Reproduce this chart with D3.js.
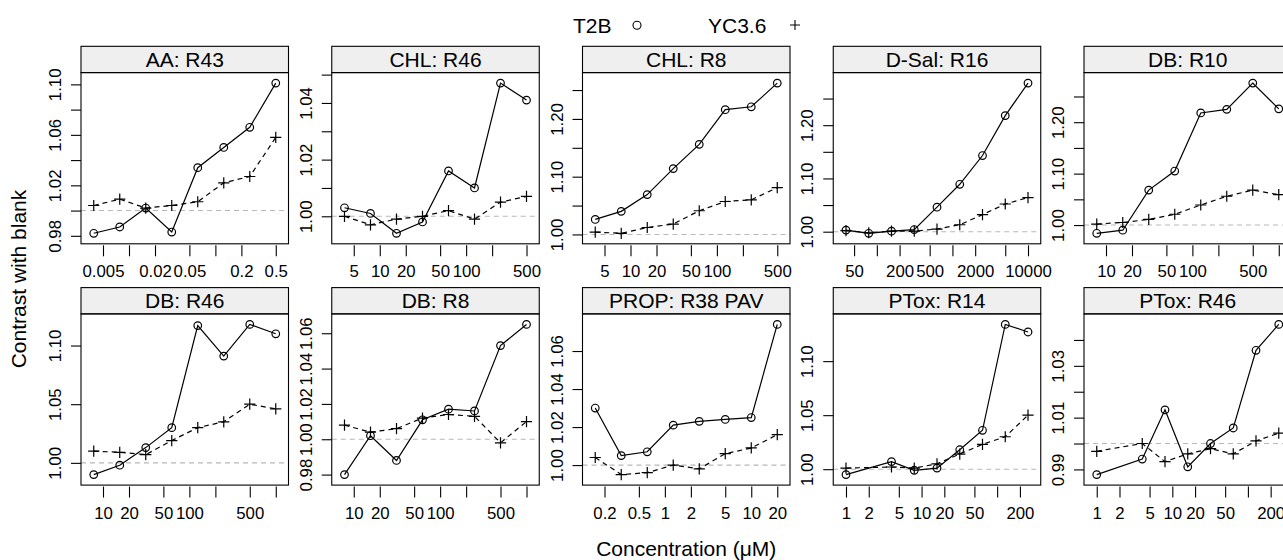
<!DOCTYPE html>
<html>
<head>
<meta charset="utf-8">
<script src="https://cdn.jsdelivr.net/npm/d3@7"></script>
<style>
  html, body { margin: 0; padding: 0; background: #fff; overflow: hidden; }
  svg { display: block; font-family: "Liberation Sans", Arial, Helvetica, sans-serif; }
</style>
</head>
<body>
<div id="chart"></div>
<script>
'use strict';

const panelTitles = ['AA: R43', 'CHL: R46', 'CHL: R8', 'D-Sal: R16', 'DB: R10',
  'DB: R46', 'DB: R8', 'PROP: R38 PAV', 'PTox: R14', 'PTox: R46'];

// concentrations (uM), one dilution series per compound
const concAA = [0.00390625, 0.0078125, 0.015625, 0.03125, 0.0625, 0.125, 0.25, 0.5];
const concCHL = [3.90625, 7.8125, 15.625, 31.25, 62.5, 125, 250, 500];
const concDSal = [39.0625, 78.125, 156.25, 312.5, 625, 1250, 2500, 5000, 10000];
const concDB = [7.8125, 15.625, 31.25, 62.5, 125, 250, 500, 1000];
const concPROP = [0.15625, 0.3125, 0.625, 1.25, 2.5, 5, 10, 20];
const concPTox = [1, 4, 8, 16, 32, 64, 128, 256];

const panelConc = [concAA, concCHL, concCHL, concDSal, concDB,
  concDB, concDB, concPROP, concPTox, concPTox];

// contrast with blank
const t2b = [
  [0.982, 0.987, 1.002, 0.983, 1.034, 1.050, 1.066, 1.101],
  [1.003, 1.001, 0.994, 0.998, 1.016, 1.010, 1.047, 1.041],
  [1.026, 1.040, 1.069, 1.114, 1.156, 1.216, 1.221, 1.262],
  [1.003, 0.997, 1.001, 1.004, 1.046, 1.089, 1.143, 1.218, 1.279],
  [0.984, 0.990, 1.068, 1.105, 1.218, 1.225, 1.276, 1.226],
  [0.990, 0.998, 1.013, 1.030, 1.117, 1.091, 1.118, 1.110],
  [0.980, 1.002, 0.988, 1.011, 1.017, 1.016, 1.053, 1.065],
  [1.030, 1.005, 1.007, 1.021, 1.023, 1.024, 1.025, 1.074],
  [0.995, 1.007, 0.999, 1.001, 1.018, 1.036, 1.134, 1.127],
  [0.988, 0.994, 1.013, 0.991, 1.000, 1.006, 1.036, 1.046]
];
const yc36 = [
  [1.004, 1.009, 1.002, 1.004, 1.007, 1.022, 1.027, 1.058],
  [1.000, 0.997, 0.999, 1.000, 1.002, 0.999, 1.005, 1.007],
  [1.004, 1.002, 1.012, 1.018, 1.041, 1.057, 1.060, 1.081],
  [1.002, 0.998, 1.001, 1.001, 1.005, 1.013, 1.032, 1.052, 1.064],
  [1.002, 1.005, 1.011, 1.021, 1.039, 1.056, 1.068, 1.059],
  [1.010, 1.009, 1.007, 1.019, 1.030, 1.035, 1.050, 1.046],
  [1.008, 1.004, 1.006, 1.012, 1.014, 1.013, 0.998, 1.010],
  [1.004, 0.995, 0.996, 1.000, 0.998, 1.006, 1.009, 1.016],
  [1.001, 1.002, 1.001, 1.005, 1.014, 1.023, 1.030, 1.050],
  [0.997, 1.000, 0.993, 0.996, 0.998, 0.996, 1.001, 1.004]
];

// ticks (labels dropped where they overlapped in the original)
const xTicks = [
  [0.005, 0.01, 0.02, 0.05, 0.1, 0.2, 0.5],
  [5, 10, 20, 50, 100, 200, 500],
  [5, 10, 20, 50, 100, 200, 500],
  [50, 100, 200, 500, 1000, 2000, 5000, 10000],
  [10, 20, 50, 100, 200, 500, 1000],
  [10, 20, 50, 100, 200, 500, 1000],
  [10, 20, 50, 100, 200, 500, 1000],
  [0.2, 0.5, 1, 2, 5, 10, 20],
  [1, 2, 5, 10, 20, 50, 100, 200],
  [1, 2, 5, 10, 20, 50, 100, 200]
];
const xTickLabels = [
  ['0.005', '', '0.02', '0.05', '', '0.2', '0.5'],
  ['5', '10', '20', '50', '100', '', '500'],
  ['5', '10', '20', '50', '100', '', '500'],
  ['50', '', '200', '500', '', '2000', '', '10000'],
  ['10', '20', '50', '100', '', '500', ''],
  ['10', '20', '50', '100', '', '500', ''],
  ['10', '20', '50', '100', '', '500', ''],
  ['0.2', '0.5', '1', '2', '5', '10', '20'],
  ['1', '2', '5', '10', '20', '50', '', '200'],
  ['1', '2', '5', '10', '20', '50', '', '200']
];
const yTicks = [
  [0.98, 1.00, 1.02, 1.04, 1.06, 1.08, 1.10],
  [1.00, 1.01, 1.02, 1.03, 1.04, 1.05],
  [1.00, 1.05, 1.10, 1.15, 1.20, 1.25],
  [1.00, 1.05, 1.10, 1.15, 1.20, 1.25],
  [1.00, 1.05, 1.10, 1.15, 1.20, 1.25],
  [1.00, 1.05, 1.10],
  [0.98, 1.00, 1.02, 1.04, 1.06],
  [1.00, 1.02, 1.04, 1.06],
  [1.00, 1.05, 1.10],
  [0.99, 1.00, 1.01, 1.02, 1.03, 1.04]
];
const yTickLabels = [
  ['0.98', '', '1.02', '', '1.06', '', '1.10'],
  ['1.00', '', '1.02', '', '1.04', ''],
  ['1.00', '', '1.10', '', '1.20', ''],
  ['1.00', '', '1.10', '', '1.20', ''],
  ['1.00', '', '1.10', '', '1.20', ''],
  ['1.00', '1.05', '1.10'],
  ['0.98', '1.00', '1.02', '1.04', '1.06'],
  ['1.00', '1.02', '1.04', '1.06'],
  ['1.00', '1.05', '1.10'],
  ['0.99', '', '1.01', '', '1.03', '']
];

const seriesNames = ['T2B', 'YC3.6'];

const config = {
  width: 1283,
  height: 560,
  left: 81,
  colStep: 250.75,
  panelW: 207.5,
  top: 46.3,
  rowStep: 241.3,
  stripH: 26.3,
  panelH: 171.2,
  cols: 5,
  pad: 0.07,          // lattice axis.padding
  tickFont: 16.8,
  stripFont: 21,
  titleFont: 21,
  lineW: 1.2,
  r: 3.8,
  plus: 5.6
};

const svg = d3.select('#chart').append('svg')
  .attr('width', config.width)
  .attr('height', config.height);

const padRange = ([a, b], p) => [a - (b - a) * p, b + (b - a) * p];

const plusPath = (s) => `M${-s},0H${s}M0,${-s}V${s}`;

panelTitles.forEach((title, i) => {
  const { panelW, panelH, stripH } = config;
  const col = i % config.cols, row = Math.floor(i / config.cols);
  const x0 = config.left + col * config.colStep;
  const y0 = config.top + row * config.rowStep + stripH;
  const conc = panelConc[i];

  const lx = padRange(d3.extent(conc).map(Math.log10), config.pad);
  const x = d3.scaleLog().domain(lx.map(v => Math.pow(10, v))).range([0, panelW]);
  const y = d3.scaleLinear()
    .domain(padRange(d3.extent(t2b[i].concat(yc36[i])), config.pad))
    .range([panelH, 0]);

  const g = svg.append('g').attr('transform', `translate(${x0},${y0})`);

  // strip
  g.append('rect')
    .attr('x', 0).attr('y', -stripH)
    .attr('width', panelW).attr('height', stripH)
    .attr('fill', '#efefef').attr('stroke', '#000').attr('stroke-width', 1.1);
  g.append('text')
    .attr('x', panelW / 2).attr('y', -stripH / 2)
    .attr('dy', '0.36em')
    .attr('text-anchor', 'middle')
    .attr('font-size', config.stripFont)
    .text(title);

  // reference line at 1
  g.append('line')
    .attr('x1', 0).attr('x2', panelW)
    .attr('y1', y(1)).attr('y2', y(1))
    .attr('stroke', '#b8b8b8').attr('stroke-width', 1.1)
    .attr('stroke-dasharray', '5,4');

  const pts = (vals) => conc.map((c, k) => [c, vals[k]]);
  const line = d3.line().x(d => x(d[0])).y(d => y(d[1]));

  g.append('path').datum(pts(yc36[i]))
    .attr('d', line).attr('fill', 'none')
    .attr('stroke', '#000').attr('stroke-width', config.lineW)
    .attr('stroke-dasharray', '5,4');
  g.append('path').datum(pts(t2b[i]))
    .attr('d', line).attr('fill', 'none')
    .attr('stroke', '#000').attr('stroke-width', config.lineW);

  g.selectAll('.pt-t2b').data(pts(t2b[i])).enter()
    .append('circle').attr('class', 'pt-t2b')
    .attr('cx', d => x(d[0])).attr('cy', d => y(d[1]))
    .attr('r', config.r)
    .attr('fill', 'none').attr('stroke', '#000').attr('stroke-width', config.lineW);
  g.selectAll('.pt-yc').data(pts(yc36[i])).enter()
    .append('path').attr('class', 'pt-yc')
    .attr('transform', d => `translate(${x(d[0])},${y(d[1])})`)
    .attr('d', plusPath(config.plus))
    .attr('stroke', '#000').attr('stroke-width', config.lineW);

  // panel border
  g.append('rect')
    .attr('width', panelW).attr('height', panelH)
    .attr('fill', 'none').attr('stroke', '#000').attr('stroke-width', 1.1);

  // x axis
  const xa = g.append('g')
    .attr('transform', `translate(0,${panelH + 1.5})`)
    .call(d3.axisBottom(x)
      .tickValues(xTicks[i])
      .tickFormat((d, k) => xTickLabels[i][k])
      .tickSizeInner(11).tickSizeOuter(0).tickPadding(9));
  xa.select('.domain').remove();
  xa.attr('font-size', config.tickFont).attr('font-family', null);
  xa.selectAll('line').attr('stroke-width', 1.1);
  xa.selectAll('text').attr('fill', '#000');

  // y axis, labels rotated
  const ya = g.append('g')
    .call(d3.axisLeft(y)
      .tickValues(yTicks[i])
      .tickFormat((d, k) => yTickLabels[i][k])
      .tickSizeInner(10).tickSizeOuter(0));
  ya.select('.domain').remove();
  ya.attr('font-size', config.tickFont).attr('font-family', null);
  ya.selectAll('line').attr('stroke-width', 1.1);
  ya.selectAll('text')
    .attr('x', 0).attr('dy', 0)
    .attr('text-anchor', 'middle')
    .attr('fill', '#000')
    .attr('transform', 'translate(-20,0) rotate(-90)');
});

// axis titles
const centreX = config.left + (config.cols - 1) * config.colStep / 2 + config.panelW / 2;
svg.append('text')
  .attr('x', centreX).attr('y', 556)
  .attr('text-anchor', 'middle')
  .attr('font-size', config.titleFont)
  .text('Concentration (\u03bcM)');
svg.append('text')
  .attr('transform', 'translate(26,279) rotate(-90)')
  .attr('text-anchor', 'middle')
  .attr('font-size', config.titleFont)
  .text('Contrast with blank');

// key
const key = svg.append('g').attr('font-size', config.titleFont);
key.append('text').attr('x', 573).attr('y', 32.5).text(seriesNames[0]);
key.append('circle')
  .attr('cx', 637).attr('cy', 25.3).attr('r', 4)
  .attr('fill', 'none').attr('stroke', '#000').attr('stroke-width', 1.1);
key.append('text').attr('x', 708).attr('y', 32.5).text(seriesNames[1]);
key.append('path')
  .attr('transform', 'translate(795,25)')
  .attr('d', plusPath(5))
  .attr('stroke', '#000').attr('stroke-width', 1.1);
</script>
</body>
</html>
